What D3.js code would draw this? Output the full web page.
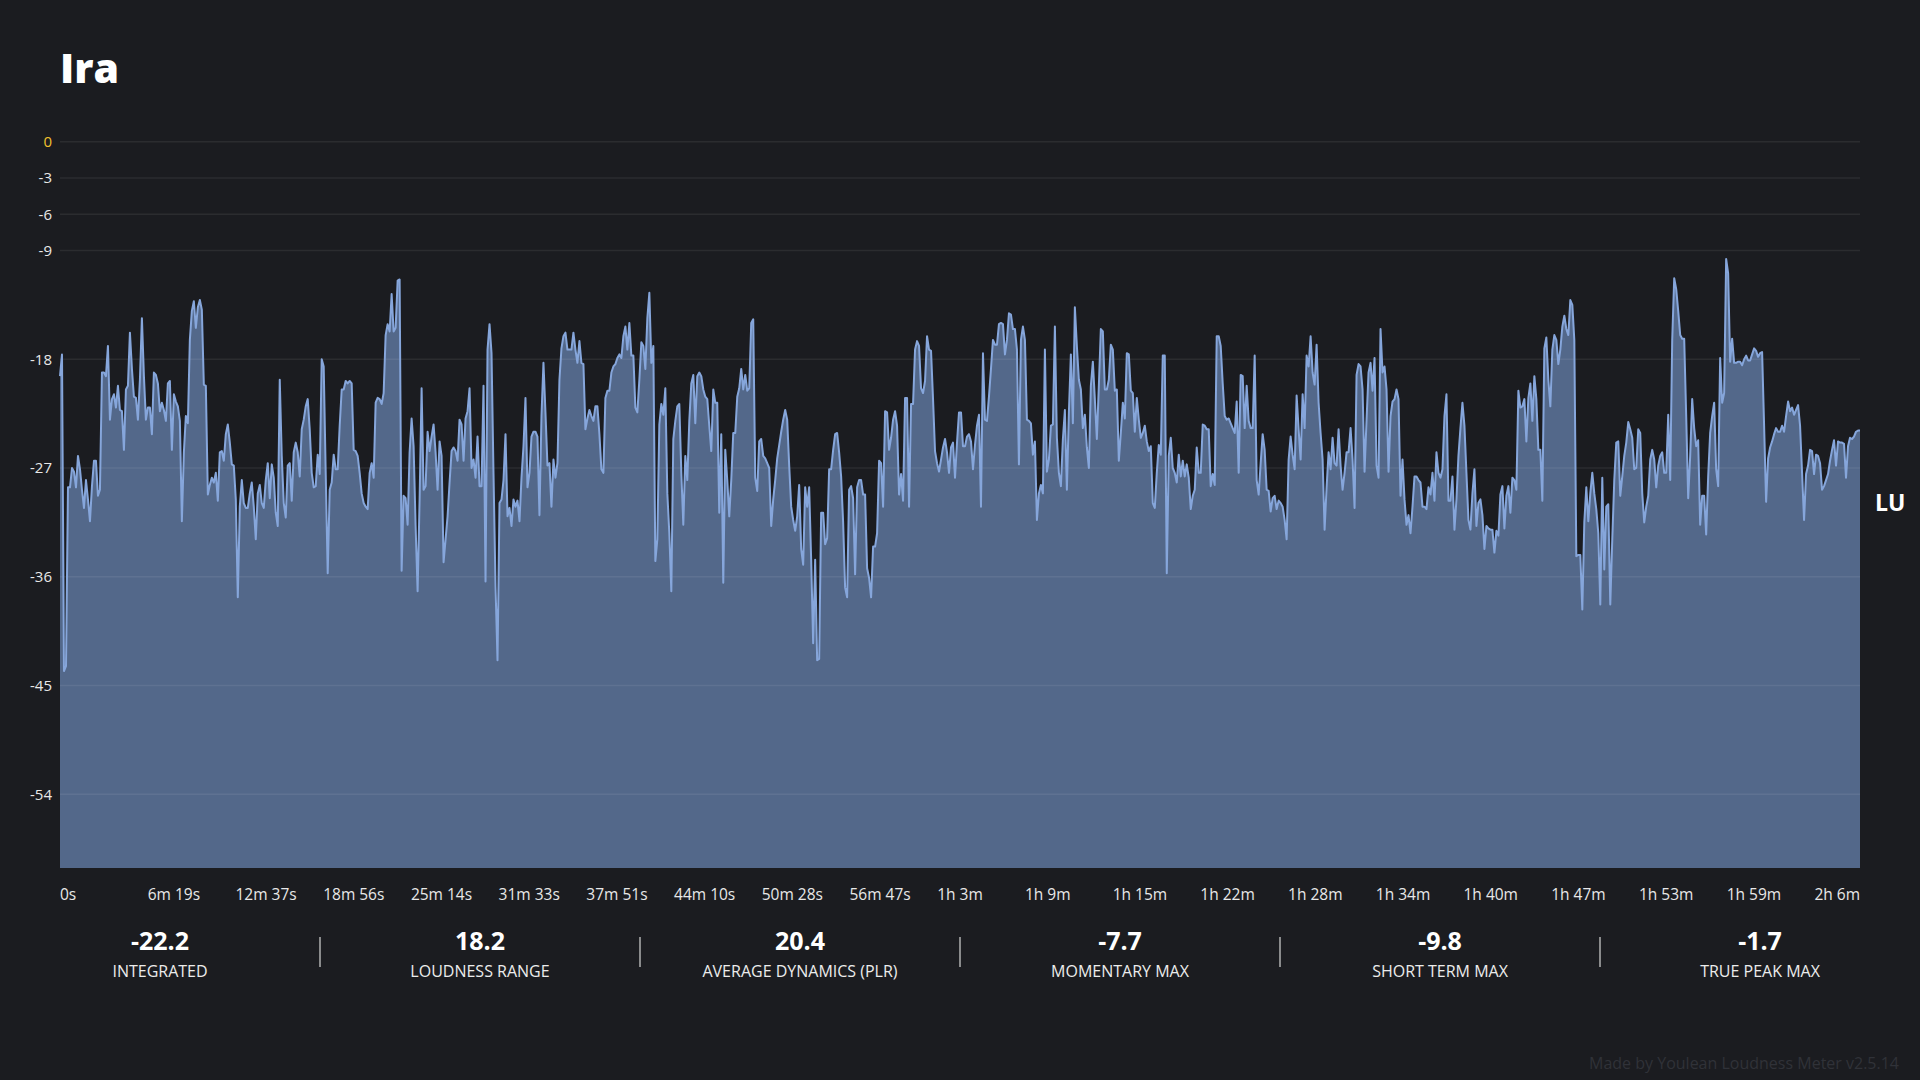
<!DOCTYPE html>
<meta charset="utf-8">

<!-- Load d3.js -->
<script src="https://cdn.jsdelivr.net/npm/d3@7"></script>

<style>
  body { margin: 0; background: #1b1c20; }
  text { font-family: "Open Sans", "Noto Sans", sans-serif; }
</style>

<div id="my_dataviz"></div>

<script>

  // chart data
  var title = "Ira";
  var durationSec = 7570; // 2h 6m 10s
  var yTicks = [0, -3, -6, -9, -18, -27, -36, -45, -54];
  var timeLabels = ["0s", "6m 19s", "12m 37s", "18m 56s", "25m 14s", "31m 33s", "37m 51s",
    "44m 10s", "50m 28s", "56m 47s", "1h 3m", "1h 9m", "1h 15m", "1h 22m", "1h 28m",
    "1h 34m", "1h 40m", "1h 47m", "1h 53m", "1h 59m", "2h 6m"];
  var statValues = ["-22.2", "18.2", "20.4", "-7.7", "-9.8", "-1.7"];
  var statNames = ["INTEGRATED", "LOUDNESS RANGE", "AVERAGE DYNAMICS (PLR)", "MOMENTARY MAX", "SHORT TERM MAX", "TRUE PEAK MAX"];

  // short term loudness (LU), evenly spaced over the duration
  var shortTerm = [
    -19.4,-17.6,-43.8,-43.4,-28.6,-28.6,-27.0,-27.3,-28.6,-26.0,
    -27.1,-28.8,-30.3,-28.0,-29.6,-31.4,-28.5,-26.4,-26.4,-29.3,
    -28.8,-19.1,-19.1,-19.4,-16.9,-23.0,-21.3,-20.9,-22.0,-20.2,
    -22.2,-22.3,-25.5,-20.5,-20.2,-15.8,-18.8,-21.1,-21.2,-23.0,
    -19.7,-14.6,-19.4,-23.0,-22.0,-22.0,-24.2,-19.1,-19.3,-20.0,
    -22.3,-21.6,-22.2,-23.1,-20.0,-19.8,-25.5,-20.9,-21.5,-21.9,
    -23.1,-31.4,-25.7,-22.7,-23.3,-16.4,-14.0,-13.2,-15.4,-13.7,
    -13.1,-13.9,-20.1,-20.2,-29.2,-28.4,-27.8,-28.2,-27.4,-29.7,
    -25.7,-25.6,-26.4,-24.2,-23.4,-24.9,-26.7,-26.8,-29.6,-37.7,
    -30.2,-28.0,-29.9,-30.3,-30.3,-29.1,-28.2,-30.2,-32.9,-29.1,
    -28.4,-29.9,-30.3,-28.0,-26.6,-29.5,-26.7,-27.8,-30.7,-31.8,
    -19.7,-26.0,-29.9,-31.1,-26.8,-26.6,-29.7,-25.7,-24.9,-25.7,
    -27.7,-23.8,-23.0,-21.9,-21.3,-23.8,-27.4,-28.6,-28.5,-25.9,
    -27.5,-18.0,-18.6,-27.4,-35.7,-28.8,-28.2,-25.9,-27.1,-27.1,
    -23.5,-20.5,-20.5,-19.8,-20.0,-19.8,-20.0,-25.5,-25.6,-26.0,
    -27.4,-29.1,-29.9,
    -30.2,-30.4,-27.4,-26.6,-27.8,-21.6,-21.2,-21.3,-21.7,-20.8,
    -16.0,-15.1,-15.7,-12.6,-15.7,-15.4,-11.5,-11.4,
    -35.5,-29.3,-29.5,-31.7,-25.7,-22.9,-25.2,-31.8,-37.2,-29.6,
    -20.4,-28.8,-28.5,-24.0,-25.6,-24.4,-23.4,-25.7,-28.8,-24.8,
    -26.0,-34.8,-32.9,-31.0,-28.2,-25.6,-25.3,-25.6,-26.4,-23.0,
    -23.4,-26.4,-22.9,-22.3,-20.4,-27.0,-26.3,-27.8,-24.4,-28.5,
    -28.5,-20.2,-36.4,-17.2,-15.1,-17.5,-27.5,-36.8,-42.9,-29.9,
    -29.6,-28.0,-24.2,-31.0,-30.3,-31.8,-29.6,-30.2,-29.7,-31.4,
    -27.8,-25.2,-21.2,-28.6,-27.4,-24.4,-24.0,-24.0,-24.4,-30.9,
    -22.7,-18.3,-22.4,-26.8,-26.6,-30.2,-26.3,-27.8,-26.6,-19.7,
    -17.1,-16.1,-15.8,-17.2,-17.2,-17.2,-15.8,-17.2,-18.3,-16.5,
    -18.3,-18.4,-23.8,-22.9,-22.2,-22.7,-23.1,-21.9,-21.9,-24.2,
    -27.1,-27.4,-21.2,-20.6,-20.6,-19.1,-18.6,-18.4,-17.9,-17.6,
    -17.9,-16.1,-15.3,-17.2,-15.0,-17.7,-17.7,-22.0,-22.4,-19.7,
    -16.6,-16.9,-18.8,-14.6,-12.5,-18.3,-16.9,-34.7,-32.9,-23.4,
    -21.7,-22.6,
    -20.4,-29.1,-32.4,-37.2,-24.6,-23.1,-21.9,-21.7,-27.4,-31.7,
    -26.0,-28.0,-23.1,-20.0,-19.3,-23.3,-19.4,-19.1,-19.4,-20.5,
    -21.1,-21.3,-23.5,-25.6,-20.5,-21.6,-21.6,-30.7,-24.2,-36.5,
    -25.5,-28.0,-31.0,-28.0,-24.1,-24.1,-21.1,-20.4,-18.8,-20.5,
    -19.3,-20.6,-20.4,-15.0,-14.7,-27.8,-28.9,-24.8,-24.6,-26.0,
    -26.2,-26.6,-27.0,-31.8,-29.6,-28.0,-26.2,-25.1,-24.0,-23.0,
    -22.2,-23.0,-26.8,-30.2,-31.3,-32.2,-31.0,-28.4,-33.7,-35.0,
    -28.6,-30.2,-28.6,-34.6,-41.5,-34.6,-42.9,-42.8,-30.7,-30.7,
    -33.3,-32.8,-27.1,-27.1,-25.5,-24.2,-24.1,-25.7,-27.7,-31.5,
    -36.9,-37.7,-28.8,-28.5,-29.5,-35.8,-28.6,-28.0,-28.0,-29.2,
    -29.2,-35.3,-36.1,-37.7,-33.5,-33.5,-32.4,-26.4,-26.6,-30.2,
    -22.3,-22.4,-25.5,-24.5,-23.0,-22.3,-23.5,-29.2,-27.5,-29.7,
    -21.2,-21.2,-30.2,-21.7,-21.7,-17.2,-16.5,-16.9,-20.4,-20.8,
    -19.8,-16.1,-17.2,-17.3,-21.3,-25.6,-26.6,-27.3,-26.3,-25.3,
    -24.6,-25.7,-27.4,-25.3,-24.9,-27.8,-24.9,-22.4,-22.4,-25.2,
    -25.2,-24.4,-24.2,-24.8,-27.1,-25.1,-23.5,-22.6,-30.2,-17.5,
    -23.0,-23.1,-21.1,-18.8,-16.4,-16.8,-16.8,-15.1,-15.0,-15.1,
    -17.6,-16.4,-14.2,-14.3,-15.5,-15.5,-17.2,-26.7,-16.4,-15.3,
    -16.4,-23.0,-23.1,-23.3,-25.9,-24.8,-31.3,-29.1,-28.4,-29.1,
    -17.2,-27.3,-26.3,-23.5,-23.4,-15.3,-24.5,-27.4,-28.5,-24.6,
    -22.2,-28.8,-22.4,-17.6,-23.3,-13.7,-16.9,-19.7,-20.5,-23.7,
    -22.6,-25.3,-27.0,-20.2,-18.2,-21.3,-24.6,-20.2,-15.5,-15.7,
    -20.5,-20.5,-19.7,-16.8,-17.2,-20.6,-20.5,-26.4,-24.1,-21.6,
    -22.9,-17.5,-17.6,-20.6,-20.8,-24.0,-21.2,-23.0,-24.5,-24.1,
    -23.5,-24.8,-25.6,-25.2,-29.9,-30.3,-27.4,-25.1,-25.9,-17.7,
    -17.7,-35.7,-26.0,-24.5,-27.0,-27.4,-28.2,-25.9,-27.7,-26.4,
    -27.7,-26.7,-27.8,-30.4,-29.3,-28.8,-25.3,-27.4,-27.4,-23.4,
    -23.5,-23.8,-23.8,-28.5,-27.5,-28.4,-16.1,-16.1,-16.9,-20.0,
    -22.7,-23.0,-22.9,-23.3,-23.7,-24.1,-21.5,-27.4,-19.3,-19.4,
    -23.7,-20.2,-23.1,-23.7,-23.7,-17.7,-28.0,-29.2,-26.6,-24.2,
    -25.5,
    -28.8,-28.9,-30.6,-29.5,-29.3,-30.4,-29.7,-29.9,-30.2,-31.3,
    -32.9,-26.3,-24.4,-25.9,-27.1,-21.0,-23.8,-26.3,-20.9,-23.7,
    -17.7,-18.6,-16.1,-19.1,-20.1,-16.8,-21.6,-24.1,-26.3,-32.1,
    -28.6,-25.7,-27.1,-24.5,-26.6,-26.8,-23.8,-26.8,-28.8,-27.4,
    -25.7,-25.7,-23.7,-26.3,-30.3,-19.3,-18.4,-18.6,-20.5,-27.3,
    -23.0,-19.1,-18.3,-20.6,-17.9,-26.8,-27.8,-15.5,-19.1,-18.6,
    -20.5,-27.3,-22.7,-21.5,-21.3,-20.5,-21.3,-29.3,-26.3,-29.6,
    -31.7,-30.9,-32.4,-30.2,-27.7,-27.7,-28.0,-28.2,-30.2,-30.2,
    -30.4,-28.6,-29.2,-27.4,-29.7,-25.7,-27.4,-27.8,-27.1,-22.7,
    -20.9,-29.7,-29.7,-27.7,-32.1,-29.6,-26.0,-23.7,-21.6,-23.5,
    -27.4,-31.3,-32.1,-29.1,-27.1,-31.8,-29.9,-29.6,-30.9,-33.7,
    -31.8,-32.0,-32.1,-32.1,-34.0,-32.2,-32.6,-29.2,-28.5,-32.0,
    -29.3,-28.5,-30.7,-27.8,-28.0,-28.8,-20.6,-22.0,-21.9,-21.3,
    -24.8,-21.2,-20.0,-23.1,-19.4,-21.3,-25.5,-25.5,-29.7,-17.1,
    -16.2,-19.7,-21.9,-17.2,-16.0,-16.4,-18.4,-17.2,-15.3,-14.4,
    -15.5,-16.0,-13.1,-13.5,-16.4,-34.3,-34.2,-34.2,-38.7,-31.5,
    -28.6,-31.4,-29.1,-27.4,-29.1,-30.4,-32.4,-38.3,-27.8,-35.4,
    -30.2,-30.0,-38.3,-32.9,-28.0,-24.9,-24.8,-29.3,-27.7,-26.0,
    -24.9,-23.2,-23.8,-24.5,-27.1,-27.0,-23.8,-24.1,-29.1,-31.5,
    -30.2,-29.3,-26.3,-25.5,-26.3,-28.6,-26.8,-26.0,-25.7,-27.4,
    -27.4,-22.6,-28.0,-16.4,-11.3,-12.2,-14.0,-16.0,-16.3,-16.3,
    -22.7,-29.5,-26.0,-21.3,-23.7,-25.2,-24.7,-31.7,-29.3,-29.3,
    -32.5,-27.7,-24.1,-22.7,-21.6,-27.1,-28.5,-17.9,-21.6,-20.8,
    -9.7,-10.9,-18.2,-16.3,-18.3,-18.3,-18.2,-18.2,-18.5,-18.0,
    -17.7,-18.1,-18.1,-17.6,-17.1,-17.3,-17.8,-17.5,-17.4,-23.5,
    -29.8,-26.2,-25.3,-24.8,-24.2,-23.7,-24.0,-24.0,-23.5,-24.0,
    -22.7,-21.5,-22.3,-22.0,-22.6,-22.2,-21.8,-23.5,-27.4,-31.3,
    -27.5,-26.8,-25.5,-25.6,-27.5,-25.9,-26.0,-26.6,-28.8,-28.5,
    -28.0,-27.5,-26.4,-25.5,-24.7,-26.8,-24.8,-24.9,-24.9,-25.0,
    -27.8,-25.2,-24.5,-24.6,-24.4,-24.0,-23.9,-23.9
  ];

  // dimensions
  var width = 1920, height = 1080;
  var plotLeft = 60, plotRight = 1860, plotTop = 141.7, plotBottom = 868;

  var svg = d3.select("#my_dataviz")
    .append("svg")
    .attr("width", width)
    .attr("height", height);

  svg.append("rect")
    .attr("width", width)
    .attr("height", height)
    .attr("fill", "#1b1c20");

  // scales
  var x = d3.scaleLinear()
    .domain([0, durationSec])
    .range([plotLeft, plotRight]);

  var y = d3.scaleLinear()
    .domain([0, -54])
    .range([plotTop, 794.3]);

  var step = durationSec / (shortTerm.length - 1);

  // title
  svg.append("text")
    .attr("x", 60)
    .attr("y", 83)
    .attr("fill", "#ffffff")
    .style("font-size", "41px")
    .style("font-weight", 800)
    .text(title);

  // area + line
  var area = d3.area()
    .x(function (d, i) { return x(i * step); })
    .y0(plotBottom)
    .y1(function (d) { return y(d); });

  var line = d3.line()
    .x(function (d, i) { return x(i * step); })
    .y(function (d) { return y(d); });

  svg.append("path")
    .datum(shortTerm)
    .attr("d", area)
    .attr("fill", "#53688a");

  // grid lines
  svg.append("g")
    .selectAll("line")
    .data(yTicks)
    .enter()
    .append("line")
    .attr("x1", plotLeft)
    .attr("x2", plotRight)
    .attr("y1", function (d) { return y(d); })
    .attr("y2", function (d) { return y(d); })
    .attr("stroke", "#ffffff")
    .attr("stroke-opacity", 0.07)
    .attr("stroke-width", 1.5);

  svg.append("path")
    .datum(shortTerm)
    .attr("d", line)
    .attr("fill", "none")
    .attr("stroke", "#86a6db")
    .attr("stroke-width", 2)
    .attr("stroke-linejoin", "round");

  // Y labels
  svg.append("g")
    .selectAll("text")
    .data(yTicks)
    .enter()
    .append("text")
    .attr("x", 52)
    .attr("y", function (d) { return y(d); })
    .attr("dy", "0.36em")
    .attr("text-anchor", "end")
    .attr("fill", function (d) { return d === 0 ? "#f2c12e" : "#e8e8e8"; })
    .style("font-size", "15px")
    .text(function (d) { return d; });

  svg.append("text")
    .attr("x", 1875)
    .attr("y", 511)
    .attr("fill", "#ffffff")
    .style("font-size", "23px")
    .style("font-weight", 700)
    .text("LU");

  // X labels: left aligned, last one ends at the plot edge
  var xLabels = svg.append("g")
    .selectAll("text")
    .data(timeLabels)
    .enter()
    .append("text")
    .attr("y", 900)
    .attr("fill", "#e8e8e8")
    .style("font-size", "15.5px")
    .text(function (d) { return d; });

  var lastW = xLabels.nodes()[timeLabels.length - 1].getComputedTextLength();
  var xl = d3.scalePoint()
    .domain(timeLabels)
    .range([plotLeft, plotRight - lastW]);
  xLabels.attr("x", function (d) { return xl(d); });

  // stats row
  var sx = d3.scaleBand()
    .domain(statNames)
    .range([0, width]);

  var stats = svg.append("g")
    .selectAll("g")
    .data(statNames)
    .enter()
    .append("g")
    .attr("transform", function (d) { return "translate(" + (sx(d) + sx.bandwidth() / 2) + ",0)"; });

  stats.append("text")
    .attr("y", 949.5)
    .attr("text-anchor", "middle")
    .attr("fill", "#ffffff")
    .style("font-size", "25px")
    .style("font-weight", 700)
    .text(function (d, i) { return statValues[i]; });

  stats.append("text")
    .attr("y", 977)
    .attr("text-anchor", "middle")
    .attr("fill", "#ececec")
    .style("font-size", "16px")
    .text(function (d) { return d; });

  svg.append("g")
    .selectAll("line")
    .data(statNames.slice(1))
    .enter()
    .append("line")
    .attr("x1", function (d) { return sx(d); })
    .attr("x2", function (d) { return sx(d); })
    .attr("y1", 937)
    .attr("y2", 967)
    .attr("stroke", "#b0b0b0")
    .attr("stroke-width", 1.5);

  svg.append("text")
    .attr("x", 1899)
    .attr("y", 1069)
    .attr("text-anchor", "end")
    .attr("fill", "#303238")
    .style("font-size", "16px")
    .text("Made by Youlean Loudness Meter v2.5.14");

</script>
